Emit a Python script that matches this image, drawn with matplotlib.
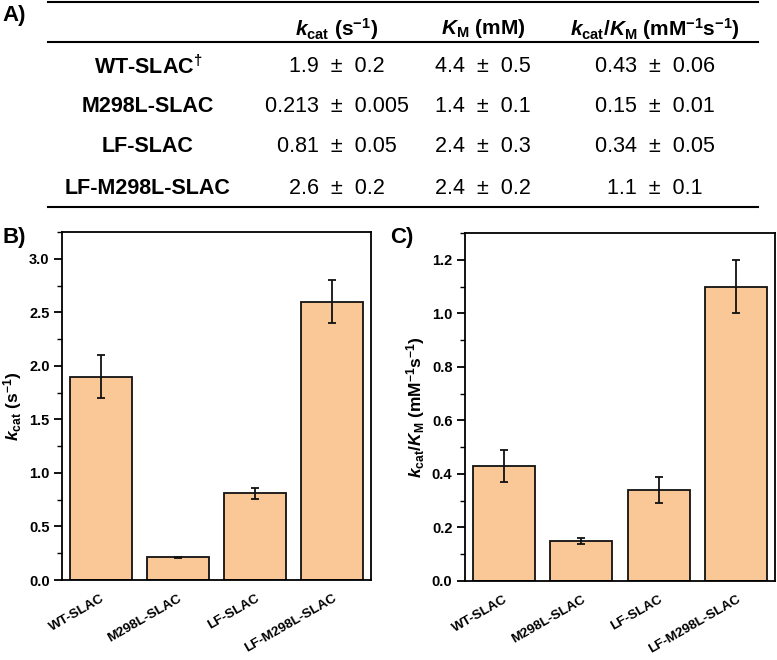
import matplotlib
matplotlib.use("Agg")
import matplotlib.pyplot as plt
import matplotlib.transforms as mtransforms
from matplotlib.lines import Line2D
from matplotlib.ticker import FormatStrFormatter, MultipleLocator

plt.rcParams["font.family"] = ["Liberation Sans", "DejaVu Sans"]
plt.rcParams["mathtext.fontset"] = "custom"
plt.rcParams["mathtext.rm"] = "Liberation Sans:bold"
plt.rcParams["mathtext.bf"] = "Liberation Sans:bold"
plt.rcParams["mathtext.it"] = "Liberation Sans:bold:italic"

# data
variants = ["WT-SLAC", "M298L-SLAC", "LF-SLAC", "LF-M298L-SLAC"]
table_labels = ["WT-SLAC$^{†}$", "M298L-SLAC", "LF-SLAC", "LF-M298L-SLAC"]
kcat = [1.9, 0.213, 0.81, 2.6]
kcat_err = [0.2, 0.005, 0.05, 0.2]
km = [4.4, 1.4, 2.4, 2.4]
km_err = [0.5, 0.1, 0.3, 0.2]
kcat_km = [0.43, 0.15, 0.34, 1.1]
kcat_km_err = [0.06, 0.01, 0.05, 0.1]
kcat_txt = ["1.9", "0.213", "0.81", "2.6"]
kcat_err_txt = ["0.2", "0.005", "0.05", "0.2"]
km_txt = ["4.4", "1.4", "2.4", "2.4"]
km_err_txt = ["0.5", "0.1", "0.3", "0.2"]
kk_txt = ["0.43", "0.15", "0.34", "1.1"]
kk_err_txt = ["0.06", "0.01", "0.05", "0.1"]
headers = [r"$k_{\mathrm{cat}}$ (s$^{\mathrm{-1}}$)",
           r"$K_{\mathrm{M}}$ (mM)",
           r"$k_{\mathrm{cat}}/K_{\mathrm{M}}$ (mM$^{\mathrm{-1}}$s$^{\mathrm{-1}}$)"]

BAR_COLOR = "#FAC896"
EDGE = "#111111"
W, H = 777, 660

fig = plt.figure(figsize=(W / 100, H / 100), dpi=100)

# --- table (pixel coordinate overlay) ---
tab = fig.add_axes([0, 0, 1, 1])
tab.set_xlim(0, W)
tab.set_ylim(H, 0)
tab.axis("off")

col_x = [148, 337, 483, 655]
header_y = 29
row_y = [67, 106, 147, 188]
line_kw = dict(color="black", linewidth=1.5)
for y in (2, 42, 207):
    tab.add_line(Line2D([48, 758], [y, y], **line_kw))

tab.text(2, 16, "A)", fontsize=16, fontweight="bold", ha="left", va="center")
for x, h in zip(col_x[1:], headers):
    tab.text(x, header_y, h, fontsize=15, fontweight="bold", ha="center", va="center")

for i, y in enumerate(row_y):
    tab.text(col_x[0], y, table_labels[i], fontsize=15.5, fontweight="bold", ha="center", va="center")
    cells = [(kcat_txt[i], kcat_err_txt[i]), (km_txt[i], km_err_txt[i]), (kk_txt[i], kk_err_txt[i])]
    for x, (v, e) in zip(col_x[1:], cells):
        tab.text(x, y, f"{v}  \u00b1  {e}", fontsize=15.5, ha="center", va="center")

tab.text(2, 237, "B)", fontsize=16, fontweight="bold", ha="left", va="center")
tab.text(390, 237, "C)", fontsize=16, fontweight="bold", ha="left", va="center")


def bar_panel(rect, values, errors, ylim, major, minor, ylabel):
    ax = fig.add_axes(rect)
    x = list(range(len(variants)))
    ax.bar(x, values, width=0.8, color=BAR_COLOR, edgecolor=EDGE, linewidth=1.3)
    ax.errorbar(x, values, yerr=errors, fmt="none", ecolor=EDGE, elinewidth=1.3,
                capsize=3, capthick=1.3)
    ax.set_xlim(-0.5, 3.5)
    ax.set_ylim(*ylim)
    ax.yaxis.set_major_locator(MultipleLocator(major))
    ax.yaxis.set_minor_locator(MultipleLocator(minor))
    ax.yaxis.set_major_formatter(FormatStrFormatter("%.1f"))
    ax.set_xticks(x)
    ax.set_xticklabels(variants, rotation=30, ha="right", rotation_mode="anchor",
                       fontsize=9.7, fontweight="bold")
    shift = mtransforms.ScaledTranslation(7 / 100, 0, fig.dpi_scale_trans)
    for lbl in ax.get_xticklabels():
        lbl.set_transform(lbl.get_transform() + shift)
    ax.tick_params(axis="x", length=0, pad=9)
    ax.tick_params(axis="y", which="major", length=6, width=1.3, labelsize=10.5, pad=3)
    ax.tick_params(axis="y", which="minor", length=3.5, width=1.0)
    for lbl in ax.get_yticklabels():
        lbl.set_fontweight("bold")
    for s in ax.spines.values():
        s.set_linewidth(1.3)
    ax.set_ylabel(ylabel, fontsize=12.5, fontweight="bold")
    ax.yaxis.set_label_coords(-0.122, 0.5)
    return ax


axB = bar_panel([62 / W, 80 / H, 309 / W, 348 / H], kcat, kcat_err, (0, 3.25), 0.5, 0.25,
                r"$k_{\mathrm{cat}}$ (s$^{\mathrm{-1}}$)")
axC = bar_panel([465 / W, 79 / H, 310 / W, 348 / H], kcat_km, kcat_km_err, (0, 1.3), 0.2, 0.1,
                r"$k_{\mathrm{cat}}/K_{\mathrm{M}}$ (mM$^{\mathrm{-1}}$s$^{\mathrm{-1}}$)")

fig.savefig("out.png", dpi=100)
